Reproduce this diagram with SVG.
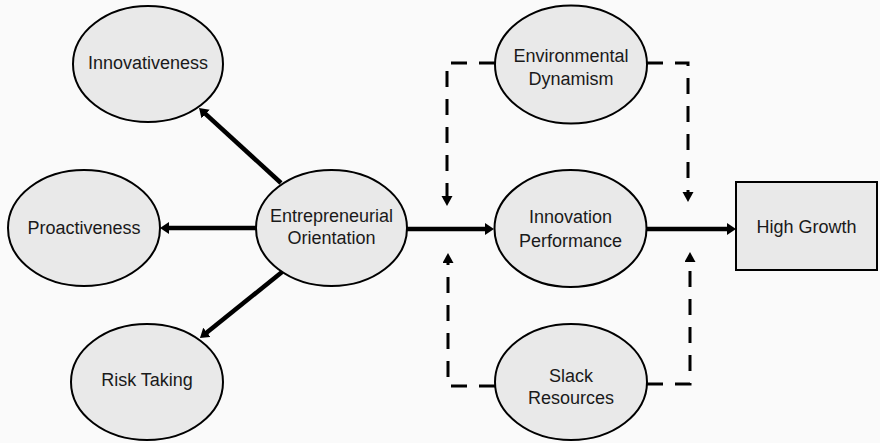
<svg xmlns="http://www.w3.org/2000/svg" width="880" height="443" viewBox="0 0 880 443">
  <style>
    .node { fill: #e9e9e9; stroke: #000; stroke-width: 2; }
    .label { font-family: "Liberation Sans", Arial, sans-serif; font-size: 18px; fill: #1a1a1a; text-anchor: middle; }
    .solid { fill: none; stroke: #000; stroke-width: 4.5; }
    .dashed { fill: none; stroke: #000; stroke-width: 3; stroke-dasharray: 16 12; }
  </style>
  <defs>
    <marker id="head" markerUnits="userSpaceOnUse" markerWidth="10" markerHeight="12" refX="1" refY="6" orient="auto">
      <path d="M0,0 L9,6 L0,12 z" fill="#000"/>
    </marker>
    <marker id="head-small" markerUnits="userSpaceOnUse" markerWidth="11" markerHeight="12" refX="0" refY="5.5" orient="auto">
      <path d="M0,0 L10,5.5 L0,11 z" fill="#000"/>
    </marker>
  </defs>

  <rect width="880" height="443" fill="#fafafa"/>

  <!-- connectors -->
  <g id="connectors">
    <line class="solid" x1="281" y1="183" x2="204.9" y2="113.4" marker-end="url(#head)"/>
    <line class="solid" x1="256" y1="228" x2="168" y2="228" marker-end="url(#head)"/>
    <line class="solid" x1="282" y1="272" x2="206.2" y2="333" marker-end="url(#head)"/>
    <line class="solid" x1="407" y1="229" x2="486" y2="229" marker-end="url(#head)"/>
    <line class="solid" x1="647" y1="229" x2="728" y2="229" marker-end="url(#head)"/>

    <path class="dashed" d="M495,63 H447 V196" marker-end="url(#head-small)"/>
    <path class="dashed" d="M647,63 H688 V192" marker-end="url(#head-small)"/>
    <path class="dashed" d="M495,386 H448 V263" marker-end="url(#head-small)"/>
    <path class="dashed" d="M647,384 H690 V262" marker-end="url(#head-small)"/>
  </g>

  <g id="innovativeness">
    <ellipse class="node" cx="148" cy="64" rx="75" ry="58"/>
    <text class="label" x="148" y="69">Innovativeness</text>
  </g>

  <g id="proactiveness">
    <ellipse class="node" cx="84" cy="228" rx="76" ry="58"/>
    <text class="label" x="84" y="234">Proactiveness</text>
  </g>

  <g id="risk-taking">
    <ellipse class="node" cx="147" cy="382" rx="76" ry="58"/>
    <text class="label" x="147" y="386">Risk Taking</text>
  </g>

  <g id="entrepreneurial-orientation">
    <ellipse class="node" cx="331.5" cy="228" rx="75.5" ry="58"/>
    <text class="label" x="331.5" y="222">Entrepreneurial</text>
    <text class="label" x="331.5" y="244">Orientation</text>
  </g>

  <g id="environmental-dynamism">
    <ellipse class="node" cx="571" cy="64.5" rx="76" ry="59"/>
    <text class="label" x="571" y="61.5">Environmental</text>
    <text class="label" x="571" y="84.5">Dynamism</text>
  </g>

  <g id="innovation-performance">
    <ellipse class="node" cx="570.5" cy="228.5" rx="76" ry="58.5"/>
    <text class="label" x="570.5" y="223">Innovation</text>
    <text class="label" x="570.5" y="246.5">Performance</text>
  </g>

  <g id="slack-resources">
    <ellipse class="node" cx="571" cy="382" rx="76" ry="58"/>
    <text class="label" x="571" y="382">Slack</text>
    <text class="label" x="571" y="403.5">Resources</text>
  </g>

  <g id="high-growth">
    <rect class="node" x="736" y="182" width="141" height="88"/>
    <text class="label" x="806.5" y="233">High Growth</text>
  </g>
</svg>
